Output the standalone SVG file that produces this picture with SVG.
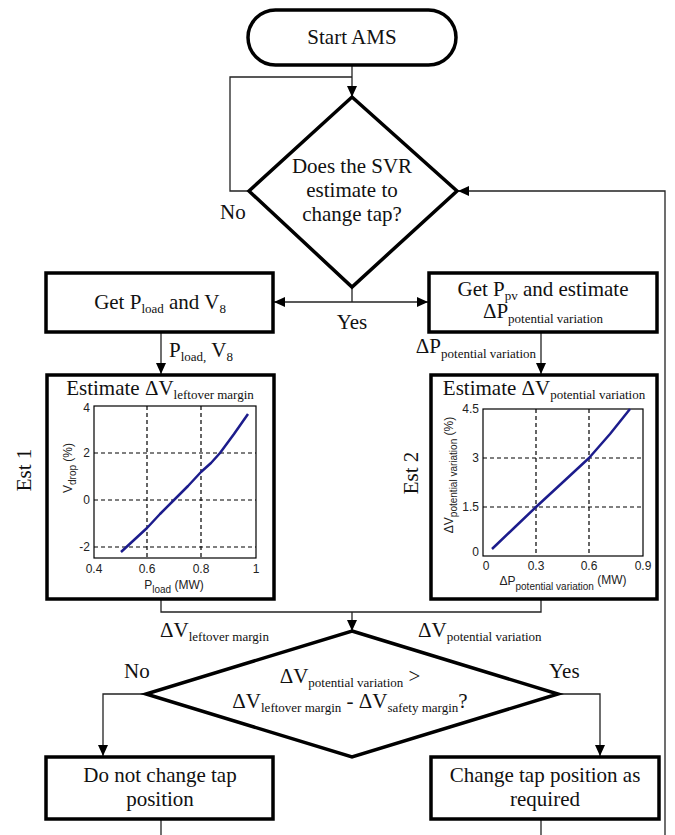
<svg xmlns="http://www.w3.org/2000/svg" width="675" height="835" viewBox="0 0 675 835">
<style>
.box{fill:#fff;stroke:#000;stroke-width:3.5}
.conn{fill:none;stroke:#222;stroke-width:1.3}
.t{font-family:"Liberation Serif","Times New Roman",serif;font-size:21px;fill:#111}
.s{font-size:13px}
.ax{font-family:"Liberation Sans",Arial,sans-serif;font-size:12px;fill:#222}
.axs{font-size:10px}
.frame{fill:#fff;stroke:#000;stroke-width:1.2}
.grid{stroke:#000;stroke-width:1.2;stroke-dasharray:4 3;fill:none}
.curve{stroke:#1c1c8c;stroke-width:2.5;fill:none;stroke-linejoin:round}
</style>
<defs>
<marker id="arr" markerUnits="userSpaceOnUse" markerWidth="12" markerHeight="10" refX="11" refY="5" orient="auto">
<path d="M0,0 L11,5 L0,10 z" fill="#000"/>
</marker>
</defs>
<rect width="675" height="835" fill="#fff"/>

<g id="connectors">
<path class="conn" d="M352,65 V97" marker-end="url(#arr)"/>
<path class="conn" d="M249,191 H230 V77 H352"/>
<path class="conn" d="M665,835 V191 H458" marker-end="url(#arr)"/>
<path class="conn" d="M352,287 V302"/>
<path class="conn" d="M352,302 H274" marker-end="url(#arr)"/>
<path class="conn" d="M352,302 H428" marker-end="url(#arr)"/>
<path class="conn" d="M161,332 V374" marker-end="url(#arr)"/>
<path class="conn" d="M541,332 V374" marker-end="url(#arr)"/>
<path class="conn" d="M161,599 V612 H541 V599"/>
<path class="conn" d="M352,612 V631" marker-end="url(#arr)"/>
<path class="conn" d="M146,694 H103 V756" marker-end="url(#arr)"/>
<path class="conn" d="M558,694 H600 V756" marker-end="url(#arr)"/>
<path class="conn" d="M161,819 V835"/>
<path class="conn" d="M541,819 V835"/>
</g>

<g id="labels">
<text class="t" x="220" y="219">No</text>
<text class="t" x="352" y="329" text-anchor="middle">Yes</text>
<text class="t" x="169" y="357">P<tspan class="s" dy="4">load,</tspan><tspan dy="-4"> V</tspan><tspan class="s" dy="4">8</tspan></text>
<text class="t" x="536" y="353" text-anchor="end">ΔP<tspan class="s" dy="5">potential variation</tspan></text>
<text class="t" x="160" y="637">ΔV<tspan class="s" dy="4">leftover margin</tspan></text>
<text class="t" x="418" y="637">ΔV<tspan class="s" dy="4">potential variation</tspan></text>
<text class="t" x="124" y="678">No</text>
<text class="t" x="549" y="678">Yes</text>
<text class="t" transform="translate(31,470) rotate(-90)" text-anchor="middle">Est 1</text>
<text class="t" transform="translate(418,473) rotate(-90)" text-anchor="middle">Est 2</text>
</g>

<g id="start">
<rect class="box" x="248" y="10" width="208" height="55" rx="27.5"/>
<text class="t" x="352" y="44" text-anchor="middle">Start AMS</text>
</g>

<g id="decision1">
<polygon class="box" points="352,97 457,191 352,287 249,191"/>
<text class="t" x="352" y="173" text-anchor="middle">Does the SVR</text>
<text class="t" x="352" y="197" text-anchor="middle">estimate to</text>
<text class="t" x="352" y="221" text-anchor="middle">change tap?</text>
</g>

<g id="getPload">
<rect class="box" x="46" y="273" width="227" height="59"/>
<text class="t" x="160" y="309" text-anchor="middle">Get P<tspan class="s" dy="4">load</tspan><tspan dy="-4"> and V</tspan><tspan class="s" dy="4">8</tspan></text>
</g>

<g id="getPpv">
<rect class="box" x="429" y="273" width="228" height="59"/>
<text class="t" x="543" y="296" text-anchor="middle">Get P<tspan class="s" dy="4">pv</tspan><tspan dy="-4"> and estimate</tspan></text>
<text class="t" x="543" y="318" text-anchor="middle">ΔP<tspan class="s" dy="5">potential variation</tspan></text>
</g>

<g id="est1">
<rect class="box" x="47" y="375" width="227" height="224"/>
<text class="t" x="160" y="395" text-anchor="middle">Estimate ΔV<tspan class="s" dy="4">leftover margin</tspan></text>
<rect class="frame" x="94" y="406" width="162" height="152"/>
<path class="grid" d="M147,406 V558 M201,406 V558 M94,453 H256 M94,500 H256 M94,547 H256"/>
<path class="curve" d="M121,552 L134,540 L147,528 L160,514 L174,500 L188,486 L201,472 L211,463 L220,453 L234,434 L248,414"/>
<text class="ax" x="90" y="412" text-anchor="end">4</text>
<text class="ax" x="90" y="457" text-anchor="end">2</text>
<text class="ax" x="90" y="504" text-anchor="end">0</text>
<text class="ax" x="90" y="551" text-anchor="end">-2</text>
<text class="ax" x="94" y="573" text-anchor="middle">0.4</text>
<text class="ax" x="147" y="573" text-anchor="middle">0.6</text>
<text class="ax" x="201" y="573" text-anchor="middle">0.8</text>
<text class="ax" x="256" y="573" text-anchor="middle">1</text>
<text class="ax" x="174" y="589" text-anchor="middle">P<tspan class="axs" dy="4">load</tspan><tspan dy="-4"> (MW)</tspan></text>
<text class="ax" transform="translate(72,468) rotate(-90)" text-anchor="middle">V<tspan class="axs" dy="4">drop</tspan><tspan dy="-4"> (%)</tspan></text>
</g>

<g id="est2">
<rect class="box" x="431" y="375" width="226" height="224"/>
<text class="t" x="544" y="395" text-anchor="middle">Estimate ΔV<tspan class="s" dy="4">potential variation</tspan></text>
<rect class="frame" x="483" y="409" width="160" height="147"/>
<path class="grid" d="M536,409 V556 M589,409 V556 M483,458 H643 M483,507 H643"/>
<path class="curve" d="M492,549 L514,528 L536,507 L562,483 L589,458 L610,434 L630,409"/>
<text class="ax" x="479" y="413" text-anchor="end">4.5</text>
<text class="ax" x="479" y="462" text-anchor="end">3</text>
<text class="ax" x="479" y="511" text-anchor="end">1.5</text>
<text class="ax" x="479" y="556" text-anchor="end">0</text>
<text class="ax" x="486" y="570" text-anchor="middle">0</text>
<text class="ax" x="536" y="570" text-anchor="middle">0.3</text>
<text class="ax" x="589" y="570" text-anchor="middle">0.6</text>
<text class="ax" x="643" y="570" text-anchor="middle">0.9</text>
<text class="ax" x="563" y="585" text-anchor="middle">ΔP<tspan class="axs" dy="5">potential variation</tspan><tspan dy="-6"> (MW)</tspan></text>
<text class="ax" transform="translate(453,475) rotate(-90)" text-anchor="middle">ΔV<tspan class="axs" dy="4">potential variation</tspan><tspan dy="-4"> (%)</tspan></text>
</g>

<g id="decision2">
<polygon class="box" points="352,631 558,694 352,757 146,694"/>
<text class="t" x="350" y="683" text-anchor="middle">ΔV<tspan class="s" dy="4">potential variation</tspan><tspan dy="-4"> &gt;</tspan></text>
<text class="t" x="350" y="708" text-anchor="middle">ΔV<tspan class="s" dy="4">leftover margin</tspan><tspan dy="-4"> - ΔV</tspan><tspan class="s" dy="4">safety margin</tspan><tspan dy="-4">?</tspan></text>
</g>

<g id="noChange">
<rect class="box" x="46" y="757" width="227" height="62"/>
<text class="t" x="160" y="782" text-anchor="middle">Do not change tap</text>
<text class="t" x="160" y="806" text-anchor="middle">position</text>
</g>

<g id="change">
<rect class="box" x="431" y="757" width="228" height="62"/>
<text class="t" x="545" y="782" text-anchor="middle">Change tap position as</text>
<text class="t" x="545" y="806" text-anchor="middle">required</text>
</g>
</svg>
